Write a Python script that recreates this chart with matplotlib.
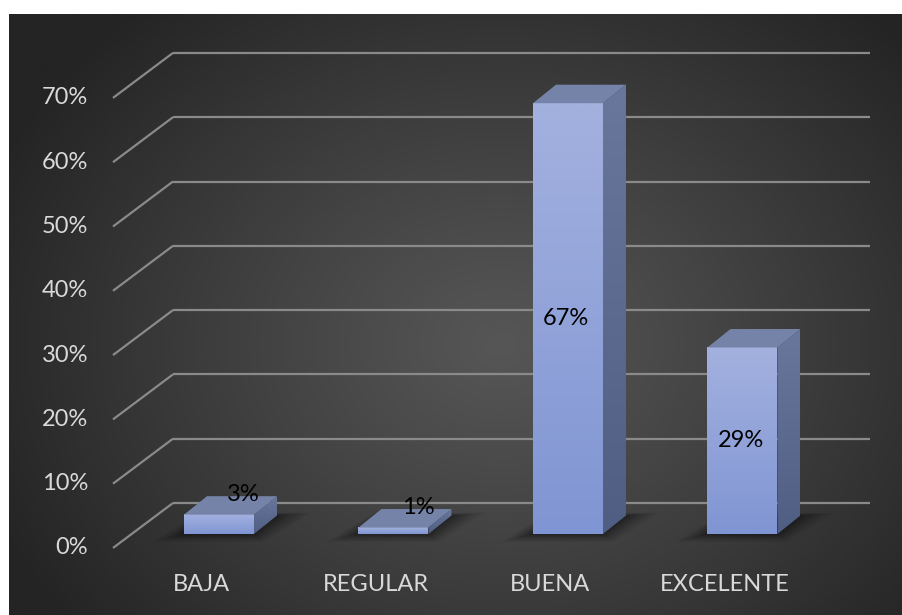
import numpy as np
import matplotlib
matplotlib.use("Agg")
import matplotlib.pyplot as plt
from matplotlib.patches import Polygon, Rectangle

# Survey results
categories = ["BAJA", "REGULAR", "BUENA", "EXCELENTE"]
values = [3, 1, 67, 29]          # percent
y_ticks = [0, 10, 20, 30, 40, 50, 60, 70]

W, H, DPI = 903, 615, 100
fig = plt.figure(figsize=(W / DPI, H / DPI), dpi=DPI)
fig.patch.set_facecolor("white")
ax = fig.add_axes([0, 0, 1, 1])
ax.set_axis_off()

# Axis ranges: categories along x, percent along y
XMIN, XMAX = -1.255, 3.92
YMIN, YMAX = -12.6, 83.05
SX = (XMAX - XMIN) / W   # data units per pixel (x)
SY = (YMAX - YMIN) / H   # data units per pixel (y)


def px(dx, dy):
    return dx * SX, dy * SY


# --- dark panel with radial gradient ---------------------------------------
px0, py0 = 9, 15
gx = np.linspace(0, 1, 400)
gy = np.linspace(0, 1, 300)
GX, GY = np.meshgrid(gx, gy)
cx, cy = 0.55, 0.55
r = np.sqrt(((GX - cx) / 0.62) ** 2 + ((GY - cy) / 0.75) ** 2)
r = np.clip(r, 0, 1)
lum = (86 - (86 - 36) * r ** 1.1) / 255.0
bg = np.dstack([lum, lum, lum])
panel_x0 = XMIN + px0 * SX
panel_y1 = YMAX - py0 * SY
ax.imshow(bg, extent=(panel_x0, XMAX, YMIN, panel_y1), origin="upper",
          aspect="auto", interpolation="bilinear", zorder=0)

# --- walls: back gridlines and side diagonals --------------------------------
back_dx, back_dy = px(41, 31)          # back wall relative to bar front plane
side_dx, side_dy = px(-60, -45)        # from back wall to floor front edge
wall_left = -0.2636
wall_right = 3.73
grid_col = "#8a8a8a"
for v in y_ticks:
    yb = v + back_dy
    ax.plot([wall_left, wall_right], [yb, yb], color=grid_col, lw=1.6,
            solid_capstyle="butt", zorder=1)
    ax.plot([wall_left, wall_left + side_dx], [yb, yb + side_dy],
            color=grid_col, lw=1.6, solid_capstyle="butt", zorder=1)
    ax.text(XMIN + 88 * SX, yb + side_dy, f"{v}%", ha="right", va="center",
            fontsize=17, color="#d9d9d9", family="Lato", zorder=5)

# --- 3D bars -------------------------------------------------------------
bar_w = 70 * SX
d_x, d_y = px(23, 18.5)

front_top = np.array([163, 177, 223]) / 255
front_bot = np.array([128, 149, 211]) / 255
side_top = np.array([106, 119, 156]) / 255
side_bot = np.array([80, 94, 132]) / 255
top_col = (118 / 255, 131 / 255, 168 / 255)

for i, v in enumerate(values):
    x0, x1 = i - bar_w / 2, i + bar_w / 2

    # soft contact shadow on the floor
    for k, a in zip(range(6, 0, -1), [0.05, 0.06, 0.07, 0.08, 0.10, 0.12]):
        ex, ey = px(4 * k, 2.2 * k)
        shadow = Polygon([(x0 - ex * 1.3, -ey * 0.6), (x1 + ex * 0.4, -ey * 0.6),
                          (x1 + d_x + ex * 1.4, d_y + ey * 0.2),
                          (x0 + d_x - ex * 0.3, d_y + ey * 0.2)],
                         closed=True, facecolor="black", edgecolor="none",
                         alpha=a, zorder=2)
        ax.add_patch(shadow)

    # front face with vertical gradient
    n = 64
    t = np.linspace(0, 1, n)[:, None]
    grad = front_top[None, :] * (1 - t) + front_bot[None, :] * t
    ax.imshow(grad[:, None, :], extent=(x0, x1, 0, v), origin="upper",
              aspect="auto", interpolation="bilinear", zorder=3)

    # side face with gradient (clipped to the parallelogram)
    side = Polygon([(x1, 0), (x1 + d_x, d_y), (x1 + d_x, v + d_y), (x1, v)],
                   closed=True, facecolor="none", edgecolor="none", zorder=3)
    ax.add_patch(side)
    sgrad = side_top[None, :] * (1 - t) + side_bot[None, :] * t
    im = ax.imshow(sgrad[:, None, :], extent=(x1, x1 + d_x, 0, v + d_y),
                   origin="upper", aspect="auto", interpolation="bilinear",
                   zorder=3)
    im.set_clip_path(side)

    # top face
    top = Polygon([(x0, v), (x1, v), (x1 + d_x, v + d_y), (x0 + d_x, v + d_y)],
                  closed=True, facecolor=top_col, edgecolor="none", zorder=3)
    ax.add_patch(top)

    # value label
    if v >= 10:
        lx, ly = i - 0.01, v / 2
    else:
        lx, ly = i + 0.14, v + 3.1
    ax.text(lx, ly, f"{v}%", ha="center", va="center", fontsize=17,
            color="black", family="Lato", zorder=6)

    # category label
    ax.text(i - 18 * SX, -51 * SY, categories[i], ha="center", va="center",
            fontsize=17, color="#d9d9d9", family="Lato", zorder=5)

ax.set_xlim(XMIN, XMAX)
ax.set_ylim(YMIN, YMAX)
fig.savefig("out.png", dpi=DPI, facecolor=fig.get_facecolor())
